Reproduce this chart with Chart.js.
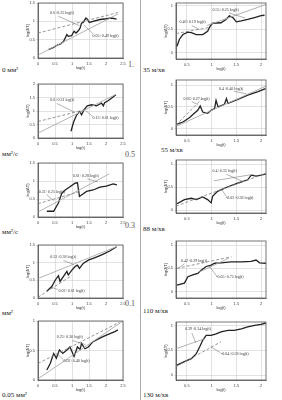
<!DOCTYPE html>
<html>
<head>
    <meta charset="UTF-8">
    <title>log(ΔT) - log(t)</title>
    <script src="https://cdn.jsdelivr.net/npm/chart.js@4.4.1/dist/chart.umd.min.js"></script>
    <style>
        html, body { margin: 0; padding: 0; background: #fff; }
        body { width: 282px; height: 400px; position: relative; overflow: hidden; font-family: "Liberation Serif", serif; color: #222; }
        .panel { position: absolute; }
        .cap { position: absolute; font-size: 7px; white-space: nowrap; color: #222; }
        .num { position: absolute; font-size: 8px; color: #555; }
        #divider { position: absolute; left: 140px; top: 0; width: 1px; height: 400px; background: #aaa; }
    </style>
</head>
<body>
    <div id="divider"></div>

    <div class="cap" style="left:2px;top:66px">0 мм²</div>
    <div class="num" style="left:128px;top:60px">1.</div>
    <div class="cap" style="left:2px;top:150px">мм²/с</div>
    <div class="num" style="left:125px;top:150px">0.5</div>
    <div class="cap" style="left:2px;top:228px">мм²/с</div>
    <div class="num" style="left:125px;top:221px">0.3</div>
    <div class="cap" style="left:2px;top:309px">мм²</div>
    <div class="num" style="left:125px;top:299px">0.1</div>
    <div class="cap" style="left:2px;top:391px">0.05 мм²</div>

    <div class="cap" style="left:143px;top:66px">35 м/хв</div>
    <div class="cap" style="left:161px;top:146px">55 м/хв</div>
    <div class="cap" style="left:143px;top:225px">88 м/хв</div>
    <div class="cap" style="left:143px;top:307px">110 м/хв</div>
    <div class="cap" style="left:143px;top:391px">130 м/хв</div>

    <script>
        // ---- data: log(t) / log(dT) ----
        // left column
        var a1x = [0.31, 0.46, 0.58, 0.65, 0.75, 0.85, 0.89, 0.99, 1.06, 1.12, 1.19, 1.24, 1.28, 1.33, 1.41, 1.45, 1.51, 1.62, 1.82, 2.01, 2.16, 2.31];
        var a1y = [0.23, 0.29, 0.36, 0.38, 0.45, 0.64, 0.59, 0.61, 0.73, 0.68, 0.75, 0.82, 0.95, 0.97, 1.09, 1.06, 0.97, 1.00, 1.05, 1.07, 1.09, 1.06];
        var a2x = [0.97, 1.05, 1.14, 1.23, 1.28, 1.35, 1.45, 1.58, 1.72, 1.82, 1.87, 1.92, 1.96, 2.06, 2.16, 2.29];
        var a2y = [0.25, 0.60, 0.86, 0.98, 0.86, 1.04, 1.19, 1.23, 1.19, 1.26, 1.29, 1.19, 1.31, 1.38, 1.47, 1.60];
        var a3x = [0.26, 0.46, 0.60, 0.70, 0.80, 0.94, 1.09, 1.16, 1.22, 1.28, 1.43, 1.62, 1.82, 2.01, 2.21, 2.32];
        var a3y = [0.16, 0.16, 0.39, 0.66, 0.75, 0.84, 0.94, 0.95, 0.57, 0.61, 0.71, 0.75, 0.83, 0.86, 0.92, 0.89];
        var a4x = [0.26, 0.41, 0.51, 0.60, 0.65, 0.75, 0.85, 0.89, 0.99, 1.09, 1.16, 1.22, 1.33, 1.48, 1.62, 1.77, 1.92, 2.11, 2.31];
        var a4y = [0.19, 0.33, 0.51, 0.63, 0.47, 0.61, 0.75, 0.65, 0.78, 0.89, 0.93, 0.84, 0.98, 1.07, 1.12, 1.18, 1.24, 1.33, 1.45];
        var a5x = [0.26, 0.36, 0.46, 0.54, 0.63, 0.73, 0.85, 0.94, 1.06, 1.16, 1.24, 1.28, 1.38, 1.48, 1.62, 1.82, 2.01, 2.26, 2.35];
        var a5y = [0.17, 0.28, 0.45, 0.37, 0.51, 0.45, 0.51, 0.56, 0.40, 0.56, 0.52, 0.62, 0.53, 0.56, 0.65, 0.71, 0.76, 0.82, 0.85];
        // right column
        var b1x = [0.30, 0.35, 0.42, 0.52, 0.59, 0.69, 0.82, 0.92, 0.97, 1.02, 1.19, 1.29, 1.36, 1.43, 1.50, 1.60, 1.73, 1.87, 2.00, 2.07];
        var b1y = [0.14, 0.29, 0.39, 0.44, 0.43, 0.39, 0.39, 0.46, 0.57, 0.63, 0.64, 0.71, 0.79, 0.75, 0.66, 0.68, 0.71, 0.75, 0.79, 0.80];
        var b2x = [0.30, 0.42, 0.55, 0.65, 0.72, 0.77, 0.82, 0.92, 0.99, 1.06, 1.09, 1.13, 1.26, 1.30, 1.33, 1.53, 1.73, 1.94, 2.09];
        var b2y = [0.10, 0.15, 0.25, 0.35, 0.42, 0.52, 0.38, 0.35, 0.42, 0.46, 0.65, 0.50, 0.56, 0.69, 0.58, 0.67, 0.77, 0.85, 0.92];
        var b3x = [0.30, 0.45, 0.59, 0.69, 0.82, 0.92, 0.99, 1.02, 1.12, 1.33, 1.53, 1.73, 1.80, 1.90, 2.00, 2.10];
        var b3y = [0.14, 0.23, 0.26, 0.23, 0.29, 0.23, 0.16, 0.30, 0.41, 0.51, 0.59, 0.66, 0.76, 0.74, 0.76, 0.79];
        var b4x = [0.30, 0.45, 0.52, 0.62, 0.72, 0.79, 0.89, 0.99, 1.06, 1.19, 1.39, 1.60, 1.80, 1.90, 1.97, 2.10];
        var b4y = [0.14, 0.18, 0.32, 0.36, 0.39, 0.46, 0.54, 0.57, 0.61, 0.62, 0.64, 0.64, 0.65, 0.68, 0.62, 0.61];
        var b5x = [0.30, 0.45, 0.59, 0.69, 0.76, 0.82, 0.89, 0.99, 1.09, 1.19, 1.33, 1.46, 1.60, 1.73, 1.87, 2.00, 2.10];
        var b5y = [0.20, 0.27, 0.33, 0.43, 0.57, 0.70, 0.80, 0.80, 0.83, 0.87, 0.90, 0.90, 0.93, 0.97, 1.00, 1.02, 1.05];

        // fitted straight lines, end points [x, y]
        var a1fit = [[[0, 0.68], [2.35, 1.24]], [[0, 0.08], [2.35, 1.20]]];
        var a2fit = [[[0, 0.61], [1.35, 1.04]], [[0, 0.18], [2.3, 1.62]]];
        var a3fit = [[[0, 0.37], [1.2, 0.70]], [[0, 0.14], [2.1, 1.20]]];
        var a4fit = [[[0, 0.02], [1.0, 0.64]], [[0, 0.55], [2.3, 1.45]]];
        var a5fit = [[[0, 0.28], [2.4, 0.98]], [[0, 0.02], [2.5, 1.00]]];
        var b1fit = [[[0.28, 0.41], [1.0, 0.55]], [[0.9, 0.58], [2.1, 1.03]]];
        var b2fit = [[[0.28, 0.08], [0.8, 0.68]], [[0.28, 0.05], [2.1, 0.98]]];
        var b3fit = [[[0.28, 0.09], [2.1, 0.80]], [[1.05, 0.64], [1.85, 0.78]]];
        var b4fit = [[[0.3, 0.50], [1.4, 0.75]], [[0.75, 0.42], [1.35, 0.72]]];
        var b5fit = [[[0.28, 0.17], [1.19, 0.67]], [[0.28, 0.53], [0.85, 0.73]]];

        // equation labels
        var a1eq = ['0.6+0.25 log(t)', '0.05+0.49 log(t)'];
        var a2eq = ['0.6+0.31 log(t)', '0.13+0.61 log(t)'];
        var a3eq = ['0.61+0.28 log(t)', '0.31+0.25 log(t)'];
        var a4eq = ['0.53+0.38 log(t)', '0.02+0.61 log(t)'];
        var a5eq = ['0.25+0.30 log(t)', '0.02+0.40 log(t)'];
        var b1eq = ['0.46+0.19 log(t)', '0.55+0.25 log(t)'];
        var b2eq = ['0.66+0.27 log(t)', '0.4+0.40 log(t)'];
        var b3eq = ['0.4+0.35 log(t)', '-0.02+0.38 log(t)'];
        var b4eq = ['0.42+0.29 log(t)', '-0.05+0.75 log(t)'];
        var b5eq = ['0.39+0.34 log(t)', '-0.04+0.58 log(t)'];

        // box + labels with leader lines
        var notesPlugin = {
            id: 'notes',
            afterDatasetsDraw: function (chart, args, opts) {
                var ctx = chart.ctx, a = chart.chartArea, x = chart.scales.x, y = chart.scales.y;
                ctx.save();
                ctx.strokeStyle = '#555';
                ctx.lineWidth = 0.8;
                ctx.strokeRect(a.left, a.top, a.width, a.height);
                ctx.font = '4px "Liberation Serif"';
                ctx.fillStyle = '#333';
                (opts.items || []).forEach(function (n) {
                    ctx.strokeStyle = '#666';
                    ctx.lineWidth = 0.5;
                    ctx.beginPath();
                    ctx.moveTo(x.getPixelForValue(n.from[0]), y.getPixelForValue(n.from[1]));
                    ctx.lineTo(x.getPixelForValue(n.to[0]), y.getPixelForValue(n.to[1]));
                    ctx.stroke();
                    ctx.fillText(n.text, x.getPixelForValue(n.at[0]), y.getPixelForValue(n.at[1]));
                });
                ctx.restore();
            }
        };

        // ticks on every multiple of 0.5 inside the axis range
        function halves(scale) {
            var out = [];
            for (var k = Math.ceil(scale.min * 2 - 1e-6); k <= Math.floor(scale.max * 2 + 1e-6); k++) {
                out.push({ value: k / 2 });
            }
            scale.ticks = out;
        }

        function tickText(v) {
            return String(Math.round(v * 10) / 10);
        }

        function pts(xs, ys) {
            return xs.map(function (v, i) { return { x: v, y: ys[i] }; });
        }

        function makePanel(p) {
            var div = document.createElement('div');
            div.className = 'panel';
            var h = p.box[1] - p.box[0] + 4 + 12;
            div.style.left = p.left + 'px';
            div.style.top = (p.box[0] - 4) + 'px';
            div.style.width = '141px';
            div.style.height = h + 'px';
            var cv = document.createElement('canvas');
            div.appendChild(cv);
            document.body.appendChild(div);

            var fitSets = p.fit.map(function (f, i) {
                return {
                    data: f.map(function (q) { return { x: q[0], y: q[1] }; }),
                    borderColor: i === 0 ? '#8a8a8a' : '#aaaaaa',
                    borderWidth: 0.9,
                    borderDash: i === 0 ? [3, 2] : [],
                    pointRadius: 0
                };
            });

            new Chart(cv, {
                type: 'line',
                data: {
                    datasets: fitSets.concat([{
                        data: pts(p.xs, p.ys),
                        borderColor: '#222',
                        borderWidth: 1.3,
                        pointRadius: 0,
                        tension: 0
                    }])
                },
                options: {
                    responsive: true,
                    maintainAspectRatio: false,
                    animation: false,
                    events: [],
                    layout: { padding: { top: 4, right: 141 - p.padL - p.yw - p.plotW, left: p.padL, bottom: 0 } },
                    plugins: {
                        legend: { display: false },
                        tooltip: { enabled: false },
                        notes: { items: p.notes }
                    },
                    scales: {
                        x: {
                            type: 'linear',
                            min: p.xr[0], max: p.xr[1],
                            ticks: { autoSkip: false, callback: tickText, font: { size: 4 }, color: '#444', padding: 1, maxRotation: 0 },
                            grid: { color: '#cfcfcf', lineWidth: 0.6, tickLength: 2 },
                            border: { color: '#555', width: 0.8 },
                            title: { display: true, text: 'log(t)', font: { size: 4 }, color: '#333', padding: 0 },
                            afterBuildTicks: halves,
                            afterFit: function (s) { s.height = 12; }
                        },
                        y: {
                            min: p.yr[0], max: p.yr[1],
                            ticks: { autoSkip: false, callback: tickText, font: { size: 4 }, color: '#444', padding: 1 },
                            grid: { color: '#cfcfcf', lineWidth: 0.6, tickLength: 2 },
                            border: { color: '#555', width: 0.8 },
                            title: { display: true, text: 'log(ΔT)', font: { size: 4 }, color: '#333', padding: 0 },
                            afterBuildTicks: halves,
                            afterFit: function (s) { s.width = p.yw; }
                        }
                    }
                },
                plugins: [notesPlugin]
            });
        }

        var L = { left: 0, padL: 25, yw: 13, plotW: 85, xr: [0, 2.5] };
        var R = { left: 141, padL: 22, yw: 13, plotW: 90, xr: [0.28, 2.1] };

        var panels = [
            Object.assign({}, L, { box: [3, 58], yr: [0, 1.5], xs: a1x, ys: a1y, fit: a1fit, notes: [
                { text: a1eq[0], at: [0.35, 1.2], from: [0.6, 1.14], to: [1.22, 0.88] },
                { text: a1eq[1], at: [1.6, 0.58], from: [1.62, 0.66], to: [1.35, 0.9] }] }),
            Object.assign({}, L, { box: [84, 138], yr: [0, 2], xs: a2x, ys: a2y, fit: a2fit, notes: [
                { text: a2eq[0], at: [0.36, 1.36], from: [0.55, 1.28], to: [1.09, 0.95] },
                { text: a2eq[1], at: [1.6, 0.72], from: [1.6, 0.8], to: [1.4, 1.02] }] }),
            Object.assign({}, L, { box: [163, 217], yr: [0, 1.5], xs: a3x, ys: a3y, fit: a3fit, notes: [
                { text: a3eq[0], at: [1.02, 1.12], from: [1.45, 1.06], to: [1.75, 0.98] },
                { text: a3eq[1], at: [0.02, 0.68], from: [0.25, 0.62], to: [0.46, 0.45] }] }),
            Object.assign({}, L, { box: [245, 298], yr: [0, 1.5], xs: a4x, ys: a4y, fit: a4fit, notes: [
                { text: a4eq[0], at: [0.36, 1.14], from: [0.75, 1.06], to: [1.05, 0.95] },
                { text: a4eq[1], at: [0.6, 0.18], from: [0.58, 0.24], to: [0.4, 0.3] }] }),
            Object.assign({}, L, { box: [321, 380], yr: [0, 1], xs: a5x, ys: a5y, fit: a5fit, notes: [
                { text: a5eq[0], at: [0.55, 0.72], from: [1.0, 0.67], to: [1.4, 0.6] },
                { text: a5eq[1], at: [0.75, 0.3], from: [0.74, 0.35], to: [0.55, 0.45] }] }),
            Object.assign({}, R, { box: [3, 59], yr: [-0.13, 1.06], xs: b1x, ys: b1y, fit: b1fit, notes: [
                { text: b1eq[0], at: [0.35, 0.64], from: [0.6, 0.58], to: [0.75, 0.5] },
                { text: b1eq[1], at: [1.02, 0.9], from: [1.35, 0.85], to: [1.68, 0.74] }] }),
            Object.assign({}, R, { box: [80, 135], yr: [-0.15, 1.12], xs: b2x, ys: b2y, fit: b2fit, notes: [
                { text: b2eq[0], at: [0.43, 0.66], from: [0.6, 0.62], to: [0.72, 0.55] },
                { text: b2eq[1], at: [1.15, 0.9], from: [1.45, 0.86], to: [1.7, 0.8] }] }),
            Object.assign({}, R, { box: [160, 213], yr: [-0.06, 1.09], xs: b3x, ys: b3y, fit: b3fit, notes: [
                { text: b3eq[0], at: [1.02, 0.84], from: [1.3, 0.78], to: [1.62, 0.63] },
                { text: b3eq[1], at: [1.29, 0.25], from: [1.3, 0.3], to: [1.2, 0.45] }] }),
            Object.assign({}, R, { box: [241, 298], yr: [-0.14, 1.09], xs: b4x, ys: b4y, fit: b4fit, notes: [
                { text: b4eq[0], at: [0.38, 0.64], from: [0.45, 0.6], to: [0.33, 0.5] },
                { text: b4eq[1], at: [1.09, 0.3], from: [1.1, 0.34], to: [0.95, 0.55] }] }),
            Object.assign({}, R, { box: [322, 380], yr: [-0.1, 1.07], xs: b5x, ys: b5y, fit: b5fit, notes: [
                { text: b5eq[0], at: [0.46, 0.9], from: [0.6, 0.85], to: [0.68, 0.65] },
                { text: b5eq[1], at: [1.19, 0.4], from: [1.18, 0.45], to: [0.98, 0.57] }] })
        ];

        panels.forEach(makePanel);
    </script>
</body>
</html>
